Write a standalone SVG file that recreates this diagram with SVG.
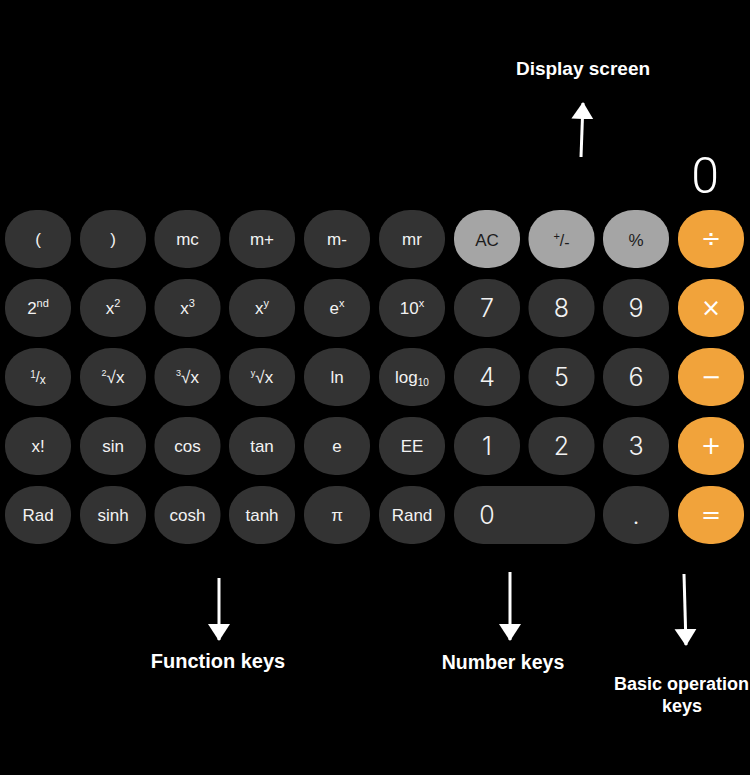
<svg xmlns="http://www.w3.org/2000/svg" width="750" height="775" viewBox="0 0 750 775">
<defs>
<style>
.k{fill:#333333}
.g{fill:#a5a5a5}
.o{fill:#f1a33b}
.t{font-family:"Liberation Sans",Arial,sans-serif;font-size:17px;fill:#f2f2f2;text-anchor:middle}
.n{font-family:"Inter","Liberation Sans",sans-serif;font-weight:300;font-size:25px;fill:#f2f2f2;text-anchor:middle}
.d{fill:#1c1c1c}
.op{font-family:"DejaVu Sans","Liberation Sans",sans-serif;font-size:24px;fill:#ffffff;text-anchor:middle}
.lab{font-family:"Liberation Sans",Arial,sans-serif;font-weight:bold;fill:#ffffff}
.arr{stroke:#ffffff;stroke-width:3;fill:none}
</style>
<marker id="ah" markerUnits="userSpaceOnUse" markerWidth="18" markerHeight="24" refX="16" refY="11" orient="auto" viewBox="0 0 18 22">
<path d="M0,0 L17,11 L0,22 Z" fill="#ffffff"/>
</marker>
</defs>
<rect width="750" height="775" fill="#000000"/>

<g id="display">
<text x="719" y="193" font-family="Roboto,'Open Sans',sans-serif" font-weight="300" font-size="50" fill="#ffffff" text-anchor="end">0</text>
</g>

<g id="row1">
<g id="key-lparen"><rect class="k" x="5" y="210" width="66" height="58" rx="31" ry="28"/><text class="t" x="38" y="245">(</text></g>
<g id="key-rparen"><rect class="k" x="80" y="210" width="66" height="58" rx="31" ry="28"/><text class="t" x="113" y="245">)</text></g>
<g id="key-mc"><rect class="k" x="154.5" y="210" width="66" height="58" rx="31" ry="28"/><text class="t" x="187.5" y="245">mc</text></g>
<g id="key-mplus"><rect class="k" x="229" y="210" width="66" height="58" rx="31" ry="28"/><text class="t" x="262" y="245">m+</text></g>
<g id="key-mminus"><rect class="k" x="304" y="210" width="66" height="58" rx="31" ry="28"/><text class="t" x="337" y="245">m-</text></g>
<g id="key-mr"><rect class="k" x="379" y="210" width="66" height="58" rx="31" ry="28"/><text class="t" x="412" y="245">mr</text></g>
<g id="key-ac"><rect class="g" x="454" y="210" width="66" height="58" rx="31" ry="28"/><text class="t d" x="487" y="246" font-size="18">AC</text></g>
<g id="key-sign"><rect class="g" x="528.5" y="210" width="66" height="58" rx="31" ry="28"/><text class="t d" x="561.5" y="246"><tspan font-size="11" dy="-6">+</tspan><tspan font-size="16" dy="6">/</tspan><tspan font-size="16" dy="2">-</tspan></text></g>
<g id="key-percent"><rect class="g" x="603" y="210" width="66" height="58" rx="31" ry="28"/><text class="t d" x="636" y="246" font-size="18">%</text></g>
<g id="key-divide"><rect class="o" x="678" y="210" width="66" height="58" rx="31" ry="28"/><text class="op" x="711" y="247">÷</text></g>
</g>

<g id="row2">
<g id="key-2nd"><rect class="k" x="5" y="279" width="66" height="58" rx="31" ry="28"/><text class="t" x="38" y="314">2<tspan font-size="11" dy="-7">nd</tspan></text></g>
<g id="key-x2"><rect class="k" x="80" y="279" width="66" height="58" rx="31" ry="28"/><text class="t" x="113" y="314">x<tspan font-size="11" dy="-7">2</tspan></text></g>
<g id="key-x3"><rect class="k" x="154.5" y="279" width="66" height="58" rx="31" ry="28"/><text class="t" x="187.5" y="314">x<tspan font-size="11" dy="-7">3</tspan></text></g>
<g id="key-xy"><rect class="k" x="229" y="279" width="66" height="58" rx="31" ry="28"/><text class="t" x="262" y="314">x<tspan font-size="11" dy="-7">y</tspan></text></g>
<g id="key-ex"><rect class="k" x="304" y="279" width="66" height="58" rx="31" ry="28"/><text class="t" x="337" y="314">e<tspan font-size="11" dy="-7">x</tspan></text></g>
<g id="key-10x"><rect class="k" x="379" y="279" width="66" height="58" rx="31" ry="28"/><text class="t" x="412" y="314">10<tspan font-size="11" dy="-7">x</tspan></text></g>
<g id="key-7"><rect class="k" x="454" y="279" width="66" height="58" rx="31" ry="28"/><text class="n" x="487" y="317">7</text></g>
<g id="key-8"><rect class="k" x="528.5" y="279" width="66" height="58" rx="31" ry="28"/><text class="n" x="561.5" y="317">8</text></g>
<g id="key-9"><rect class="k" x="603" y="279" width="66" height="58" rx="31" ry="28"/><text class="n" x="636" y="317">9</text></g>
<g id="key-multiply"><rect class="o" x="678" y="279" width="66" height="58" rx="31" ry="28"/><text class="op" x="711" y="316">×</text></g>
</g>

<g id="row3">
<g id="key-recip"><rect class="k" x="5" y="348" width="66" height="58" rx="31" ry="28"/><text class="t" x="38" y="383"><tspan font-size="10" dy="-5">1</tspan><tspan font-size="14" dy="4">/</tspan><tspan font-size="12" dy="2">x</tspan></text></g>
<g id="key-sqrt"><rect class="k" x="80" y="348" width="66" height="58" rx="31" ry="28"/><text class="t" x="113" y="383"><tspan font-size="9" dy="-7">2</tspan><tspan dy="7">√x</tspan></text></g>
<g id="key-cbrt"><rect class="k" x="154.5" y="348" width="66" height="58" rx="31" ry="28"/><text class="t" x="187.5" y="383"><tspan font-size="9" dy="-7">3</tspan><tspan dy="7">√x</tspan></text></g>
<g id="key-yroot"><rect class="k" x="229" y="348" width="66" height="58" rx="31" ry="28"/><text class="t" x="262" y="383"><tspan font-size="9" dy="-7">y</tspan><tspan dy="7">√x</tspan></text></g>
<g id="key-ln"><rect class="k" x="304" y="348" width="66" height="58" rx="31" ry="28"/><text class="t" x="337" y="383">ln</text></g>
<g id="key-log10"><rect class="k" x="379" y="348" width="66" height="58" rx="31" ry="28"/><text class="t" x="412" y="383">log<tspan font-size="10" dy="3">10</tspan></text></g>
<g id="key-4"><rect class="k" x="454" y="348" width="66" height="58" rx="31" ry="28"/><text class="n" x="487" y="386">4</text></g>
<g id="key-5"><rect class="k" x="528.5" y="348" width="66" height="58" rx="31" ry="28"/><text class="n" x="561.5" y="386">5</text></g>
<g id="key-6"><rect class="k" x="603" y="348" width="66" height="58" rx="31" ry="28"/><text class="n" x="636" y="386">6</text></g>
<g id="key-minus"><rect class="o" x="678" y="348" width="66" height="58" rx="31" ry="28"/><text class="op" x="711" y="385">−</text></g>
</g>

<g id="row4">
<g id="key-fact"><rect class="k" x="5" y="417" width="66" height="58" rx="31" ry="28"/><text class="t" x="38" y="452">x!</text></g>
<g id="key-sin"><rect class="k" x="80" y="417" width="66" height="58" rx="31" ry="28"/><text class="t" x="113" y="452">sin</text></g>
<g id="key-cos"><rect class="k" x="154.5" y="417" width="66" height="58" rx="31" ry="28"/><text class="t" x="187.5" y="452">cos</text></g>
<g id="key-tan"><rect class="k" x="229" y="417" width="66" height="58" rx="31" ry="28"/><text class="t" x="262" y="452">tan</text></g>
<g id="key-e"><rect class="k" x="304" y="417" width="66" height="58" rx="31" ry="28"/><text class="t" x="337" y="452">e</text></g>
<g id="key-ee"><rect class="k" x="379" y="417" width="66" height="58" rx="31" ry="28"/><text class="t" x="412" y="452">EE</text></g>
<g id="key-1"><rect class="k" x="454" y="417" width="66" height="58" rx="31" ry="28"/><text class="n" x="487" y="455">1</text></g>
<g id="key-2"><rect class="k" x="528.5" y="417" width="66" height="58" rx="31" ry="28"/><text class="n" x="561.5" y="455">2</text></g>
<g id="key-3"><rect class="k" x="603" y="417" width="66" height="58" rx="31" ry="28"/><text class="n" x="636" y="455">3</text></g>
<g id="key-plus"><rect class="o" x="678" y="417" width="66" height="58" rx="31" ry="28"/><text class="op" x="711" y="454">+</text></g>
</g>

<g id="row5">
<g id="key-rad"><rect class="k" x="5" y="486" width="66" height="58" rx="31" ry="28"/><text class="t" x="38" y="521">Rad</text></g>
<g id="key-sinh"><rect class="k" x="80" y="486" width="66" height="58" rx="31" ry="28"/><text class="t" x="113" y="521">sinh</text></g>
<g id="key-cosh"><rect class="k" x="154.5" y="486" width="66" height="58" rx="31" ry="28"/><text class="t" x="187.5" y="521">cosh</text></g>
<g id="key-tanh"><rect class="k" x="229" y="486" width="66" height="58" rx="31" ry="28"/><text class="t" x="262" y="521">tanh</text></g>
<g id="key-pi"><rect class="k" x="304" y="486" width="66" height="58" rx="31" ry="28"/><text class="t" x="337" y="521">π</text></g>
<g id="key-rand"><rect class="k" x="379" y="486" width="66" height="58" rx="31" ry="28"/><text class="t" x="412" y="521">Rand</text></g>
<g id="key-0"><rect class="k" x="454" y="486" width="141" height="58" rx="29" ry="28"/><text class="n" x="487" y="524">0</text></g>
<g id="key-dot"><rect class="k" x="603" y="486" width="66" height="58" rx="31" ry="28"/><text class="n" x="636" y="524">.</text></g>
<g id="key-equals"><rect class="o" x="678" y="486" width="66" height="58" rx="31" ry="28"/><text class="op" x="711" y="523">=</text></g>
</g>

<g id="labels">
<text class="lab" x="583" y="75" font-size="19" text-anchor="middle">Display screen</text>
<text class="lab" x="218" y="668" font-size="20" text-anchor="middle">Function keys</text>
<text class="lab" x="503" y="669" font-size="19.5" text-anchor="middle">Number keys</text>
<text class="lab" x="614" y="690" font-size="18">Basic operation</text>
<text class="lab" x="682" y="712" font-size="18" text-anchor="middle">keys</text>
</g>

<g id="connectors">
<path class="arr" d="M581,157 L583,103" marker-end="url(#ah)"/>
<path class="arr" d="M219,578 L219,640" marker-end="url(#ah)"/>
<path class="arr" d="M510,572 L510,640" marker-end="url(#ah)"/>
<path class="arr" d="M684,574 L686,645" marker-end="url(#ah)"/>
</g>
</svg>
